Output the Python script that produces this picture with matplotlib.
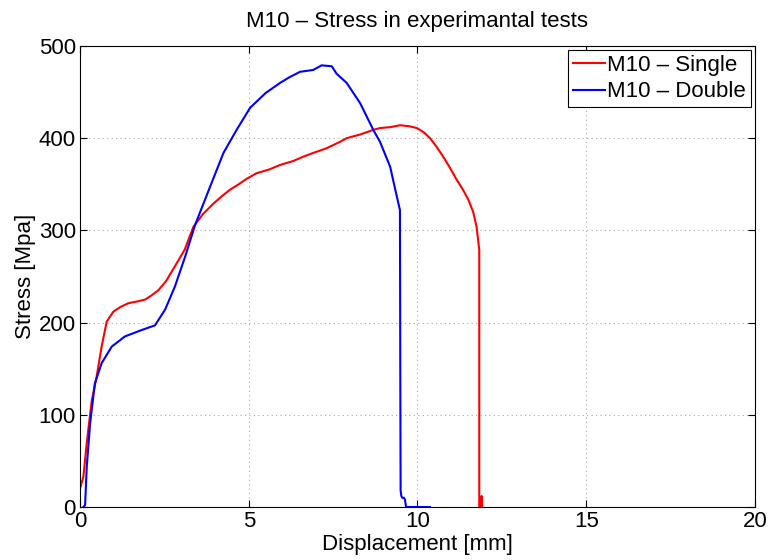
import matplotlib
matplotlib.use("Agg")
import matplotlib.pyplot as plt

# M10 single test: displacement [mm], stress [MPa]
single_x = [0.0, 0.1, 0.2, 0.35, 0.49, 0.64, 0.79, 0.99, 1.2, 1.43, 1.7, 1.93, 2.1, 2.32,
            2.55, 2.81, 3.1, 3.36, 3.65, 3.95, 4.2, 4.44, 4.7, 4.94, 5.23, 5.6, 5.93,
            6.3, 6.62, 6.91, 7.3, 7.7, 7.9, 8.3, 8.69, 8.89, 9.2, 9.48, 9.75, 9.98,
            10.2, 10.37, 10.56, 10.76, 10.96, 11.16, 11.35, 11.51, 11.65, 11.75, 11.83,
            11.83, 11.86, 11.88, 11.9, 11.92]
single_y = [20, 33, 70, 116, 141, 174, 201, 212, 217, 221, 223, 225, 229, 235,
            245, 261, 279, 304, 318, 329, 337, 344, 350, 356, 362, 366, 371,
            375, 380, 384, 389, 396, 400, 404, 409, 411, 412, 414, 413, 411,
            406, 400, 391, 380, 368, 355, 344, 333, 320, 304, 279,
            0, 0, 5, 12, 0]

# M10 double test
double_x = [0.1, 0.15, 0.2, 0.3, 0.44, 0.64, 0.94, 1.33, 1.83, 2.22, 2.52, 2.81, 3.11,
            3.41, 3.85, 4.25, 4.64, 5.04, 5.5, 5.93, 6.2, 6.52, 6.91, 7.16, 7.46, 7.6,
            7.9, 8.3, 8.69, 8.89, 9.19, 9.33, 9.48, 9.49, 9.5, 9.52, 9.55, 9.6, 9.63,
            9.66, 10.37]
double_y = [0, 2, 44, 91, 134, 156, 174, 185, 192, 197, 214, 239, 271,
            306, 347, 384, 409, 433, 449, 460, 466, 472, 474, 479, 478, 470,
            460, 438, 409, 396, 369, 346, 322, 150, 18, 12, 10, 10, 8,
            0, 0]

plt.rcParams['font.family'] = ['Liberation Sans', 'DejaVu Sans']

fig = plt.figure(figsize=(7.71, 5.6), dpi=100)
ax = fig.add_axes([0.1038, 0.0946, 0.8754, 0.8233])

ax.plot(single_x, single_y, color='#ff0000', lw=1.5, label='M10 – Single')
ax.plot(double_x, double_y, color='#0000ff', lw=1.5, label='M10 – Double')

ax.set_xlim(0, 20)
ax.set_ylim(0, 500)
ax.set_xticks([0, 5, 10, 15, 20])
ax.set_yticks([0, 100, 200, 300, 400, 500])
ax.grid(True, linestyle=(0, (1, 3)), color='#a8a8a8', linewidth=0.8)
ax.tick_params(direction='in', top=True, right=True, labelsize=16, length=5, pad=3)
for s in ax.spines.values():
    s.set_linewidth(0.8)

ax.set_xlabel('Displacement [mm]', fontsize=16, labelpad=1)
ax.set_ylabel('Stress [Mpa]', fontsize=16, labelpad=2)
ax.set_title('M10 – Stress in experimantal tests', fontsize=16, pad=14)

leg = ax.legend(loc='upper right', fontsize=16, fancybox=False, framealpha=1,
                edgecolor='black', borderaxespad=0.2, handlelength=1.45,
                handletextpad=0.1, borderpad=0.2, labelspacing=0.25)
leg.get_frame().set_linewidth(0.8)

fig.savefig('out.png', dpi=100)
